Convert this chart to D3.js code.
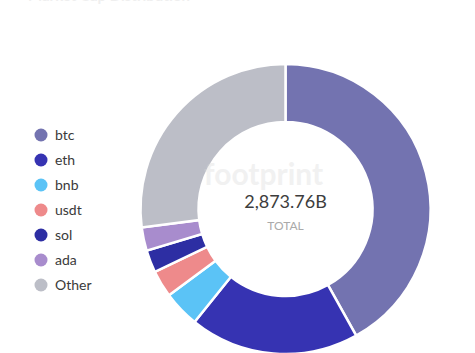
<!DOCTYPE html>
<html>
<head>
<meta charset="utf-8">
<script src="https://cdn.jsdelivr.net/npm/d3@7"></script>
<style>
  body { margin: 0; background: #fff; }
  text { font-family: Lato, "Open Sans", sans-serif; }
</style>
</head>
<body>
<div id="chart"></div>
<script>
// Chart data
var coins = ["btc", "eth", "bnb", "usdt", "sol", "ada", "Other"];
var caps = [1204, 543, 117, 86, 72, 75, 776.76];
var colors = ["#7373b0", "#3633b2", "#5bc3f6", "#ee8a8b", "#2d2ea3", "#a88ccd", "#bcbec7"];
var totalLabel = "2,873.76B";

var width = 475;
var height = 353;
var cx = 285.5;
var cy = 209;
var outerR = 145;
var innerR = 87;

var svg = d3
  .select("#chart")
  .append("svg")
  .attr("width", width)
  .attr("height", height);

// Title (mostly above the top edge)
svg.append("text")
  .attr("x", 28)
  .attr("y", 1)
  .attr("font-size", 15)
  .attr("font-weight", 700)
  .attr("fill", "#efefef")
  .text("Market Cap Distribution");

var pie = d3.pie().sort(null).value(function(d) { return d; });
var arc = d3.arc().innerRadius(innerR).outerRadius(outerR);

var g = svg.append("g")
  .attr("transform", "translate(" + cx + "," + cy + ")");

g.selectAll("path")
  .data(pie(caps))
  .enter()
  .append("path")
  .attr("d", arc)
  .attr("fill", function(d, i) { return colors[i]; })
  .attr("stroke", "#fff")
  .attr("stroke-width", 2.5);

// Watermark
g.append("text")
  .attr("x", -22)
  .attr("y", -24)
  .attr("text-anchor", "middle")
  .attr("font-size", 30)
  .attr("font-weight", 700)
  .attr("fill", "#d8d8d8")
  .attr("opacity", 0.35)
  .text("footprint");

g.append("text")
  .attr("y", -1)
  .attr("text-anchor", "middle")
  .attr("font-size", 18)
  .attr("fill", "#3d3d3d")
  .text(totalLabel);

g.append("text")
  .attr("y", 21)
  .attr("text-anchor", "middle")
  .attr("font-size", 12)
  .attr("fill", "#aaaaaa")
  .text("TOTAL");

// Legend
var legend = svg.append("g").attr("transform", "translate(41,135)");
var rows = legend.selectAll("g")
  .data(coins)
  .enter()
  .append("g")
  .attr("transform", function(d, i) { return "translate(0," + (i * 25) + ")"; });

rows.append("circle")
  .attr("r", 6.5)
  .attr("fill", function(d, i) { return colors[i]; });

rows.append("text")
  .attr("x", 14)
  .attr("y", 5)
  .attr("font-size", 14)
  .attr("fill", "#3a3a3a")
  .text(function(d) { return d; });
</script>
</body>
</html>
